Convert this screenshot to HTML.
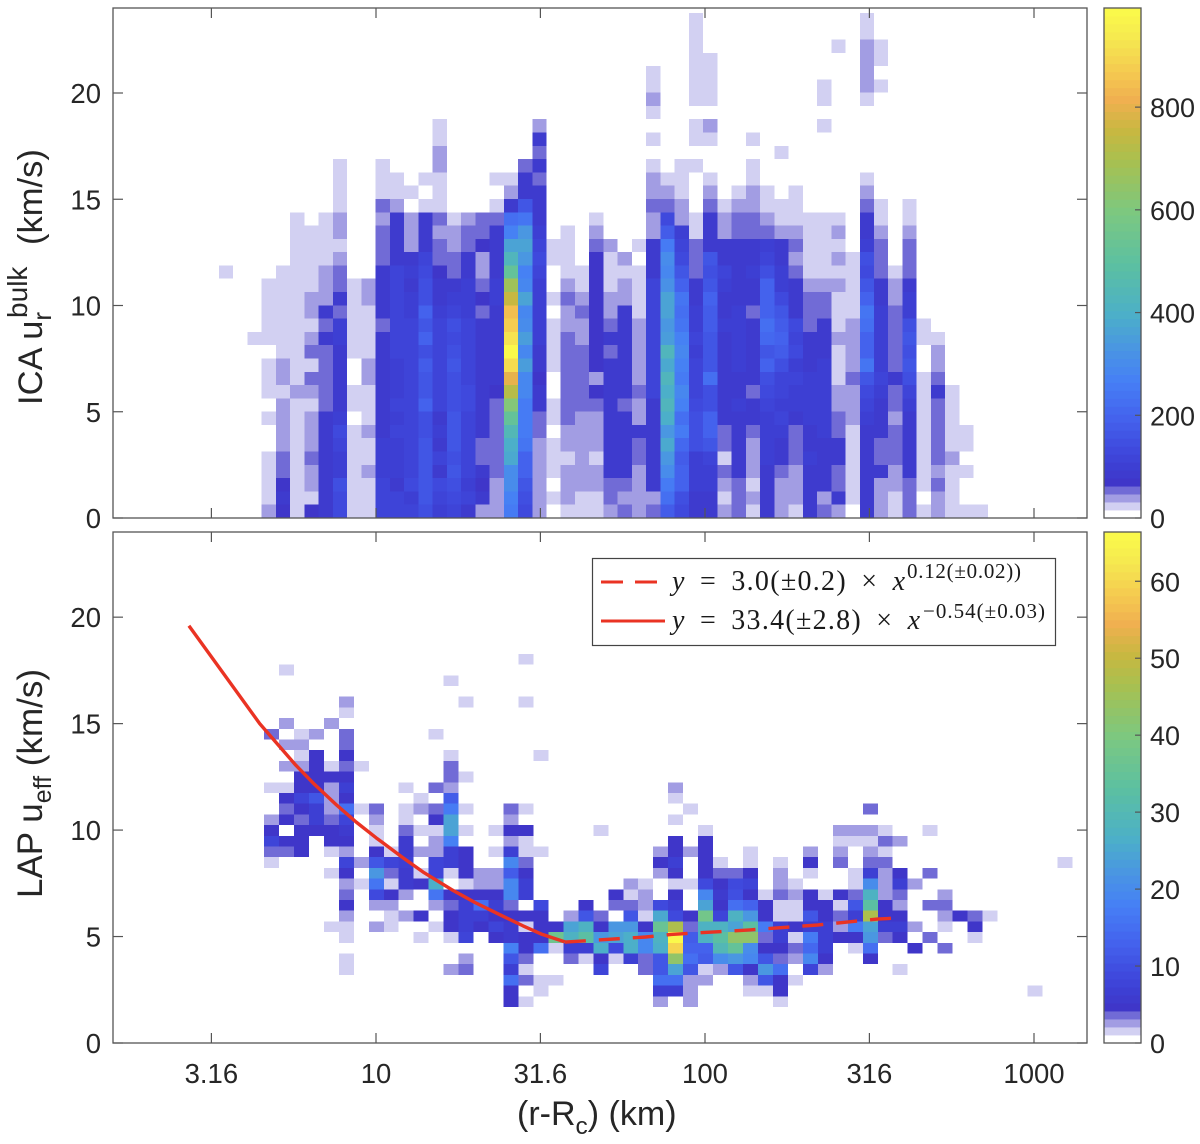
<!DOCTYPE html>
<html lang="en">
<head>
<meta charset="utf-8">
<title>ICA and LAP velocity histograms</title>
<style>
html,body{margin:0;padding:0;background:#fff;}
svg{display:block;font-family:"Liberation Sans",sans-serif;}
</style>
</head>
<body>
<svg id="figure" xmlns="http://www.w3.org/2000/svg" width="1200" height="1144" viewBox="0 0 1200 1144">
  <g id="top-cells" shape-rendering="crispEdges"></g>
  <g id="bottom-cells" shape-rendering="crispEdges"></g>
  <g id="top-bar"></g>
  <g id="bottom-bar"></g>
  <g id="fit-lines"></g>
  <g id="axes"></g>

  <text transform="translate(42,405) rotate(-90)" font-size="34.5" fill="#262626">ICA u<tspan font-size="26" dy="9">r</tspan><tspan font-size="28" dx="-6" dy="-24">bulk</tspan><tspan dx="12" dy="15"> (km/s)</tspan></text>
  <text transform="translate(42,898) rotate(-90)" font-size="35" fill="#262626">LAP u<tspan font-size="25" dy="9">eff</tspan><tspan dy="-9"> (km/s)</tspan></text>
  <text x="517" y="1125" font-size="34" fill="#262626">(r-R<tspan font-size="24.5" dy="9">c</tspan><tspan dy="-9">) (km)</tspan></text>

  <g>
    <rect x="592.5" y="558.5" width="463" height="87" fill="#fff" stroke="#444" stroke-width="1.2"/>
    <line x1="601" y1="582" x2="657" y2="582" stroke="#ea3323" stroke-width="3" stroke-dasharray="22 12"/>
    <line x1="601" y1="621" x2="665" y2="621" stroke="#ea3323" stroke-width="3"/>
    <text x="672" y="590" font-size="28" word-spacing="6" fill="#1a1a1a" font-family="'Liberation Serif',serif" textLength="233" lengthAdjust="spacing"><tspan font-style="italic">y</tspan> = 3.0(±0.2) × <tspan font-style="italic">x</tspan></text>
    <text x="907" y="578" font-size="21" fill="#1a1a1a" font-family="'Liberation Serif',serif" textLength="114" lengthAdjust="spacing">0.12(±0.02))</text>
    <text x="672" y="629" font-size="28" word-spacing="6" fill="#1a1a1a" font-family="'Liberation Serif',serif" textLength="248" lengthAdjust="spacing"><tspan font-style="italic">y</tspan> = 33.4(±2.8) × <tspan font-style="italic">x</tspan></text>
    <text x="923" y="618" font-size="21" fill="#1a1a1a" font-family="'Liberation Serif',serif" textLength="122" lengthAdjust="spacing">−0.54(±0.03)</text>
  </g>
</svg>
<script>
// ---------- chart data ----------
const xTickValues = [3.16, 10, 31.6, 100, 316, 1000];
const xTickLabels = ["3.16", "10", "31.6", "100", "316", "1000"];
const yTickValues = [0, 5, 10, 15, 20];
const topBarTicks = [0, 200, 400, 600, 800];
const bottomBarTicks = [0, 10, 20, 30, 40, 50, 60];

const fitSolidX = [2.7, 4.43, 5.7, 6.5, 7.6, 8.7, 10, 12, 14, 17, 20, 24, 28, 32, 37.5];
const fitSolidY = [19.6, 15.0, 13.05, 12.15, 11.17, 10.38, 9.64, 8.73, 8.0, 7.2, 6.6, 6.0, 5.5, 5.1, 4.75];
const fitDashedX = [37.5, 66, 79, 137, 220, 334, 384];
const fitDashedY = [4.74, 4.98, 5.10, 5.31, 5.54, 5.82, 5.87];

// ICA counts: one array per x bin, listed from the lowest velocity bin upward
const icaCounts = [
[0,0,0,0,0,0,0,0,0,0,0,0,0,0,0,0,0,0,20],
[],
[0,0,0,0,0,0,0,0,0,0,0,0,0,20],
[40,20,20,20,20,0,0,20,0,20,20,20,0,20,20,20,20,20],
[75,80,75,55,55,40,40,40,40,20,40,40,20,20,20,20,20,20,20],
[20,20,20,20,20,20,20,20,20,40,20,20,20,20,20,20,20,20,20,20,20,20,20],
[75,20,40,40,55,40,40,40,20,40,55,20,55,40,20,40,40,20,20,20,20,20],
[80,80,85,85,85,85,85,85,55,55,55,55,55,85,55,85,40,40,40,20,20,20,20],
[130,130,150,100,100,110,125,95,85,85,90,85,85,100,100,55,85,55,55,40,20,40,40,20,20,20,20],
[20,20,20,20,20,20,20,0,20,20,0,0,20,20,20,20,20,20],
[20,20,20,40,20,20,40,20,20,20,40,40,20,20,20,20,40,40],
[110,110,110,100,100,100,90,80,90,80,80,90,85,85,55,85,85,80,80,55,55,55,40,55,20,20,20],
[115,110,90,95,100,100,110,100,110,105,105,105,110,110,110,110,110,120,120,90,85,85,80,40,20,20],
[110,105,130,120,110,110,110,120,110,115,115,110,120,115,110,105,100,85,95,85,40,40,40,0,20],
[145,170,170,170,170,170,155,155,190,170,170,180,155,200,170,190,145,150,125,110,90,90,80,20,0,20],
[100,120,130,85,110,85,100,85,110,115,110,120,120,115,110,95,90,85,75,55,55,40,55,20,20,20,40,40,20,20],
[110,125,145,170,145,170,170,170,155,140,155,160,140,125,155,110,95,85,55,55,40,40,20],
[85,110,105,110,110,110,110,110,125,125,115,110,110,115,115,105,100,95,90,85,55,55,40],
[40,80,75,80,55,55,80,80,85,80,80,90,90,80,80,55,75,55,40,40,75,55,55],
[40,40,40,55,55,55,55,55,55,75,85,90,90,90,90,90,100,100,90,85,85,85,55,20,0,20],
[250,270,310,310,380,390,440,520,620,720,800,900,993,930,880,840,750,670,520,430,360,270,230,85,40,20],
[130,150,160,190,200,240,260,250,260,280,280,350,290,350,300,280,370,290,270,340,370,330,240,170,85,80,55],
[40,40,40,40,40,40,55,55,85,80,75,85,90,100,100,95,105,105,120,130,110,100,85,85,80,55,85,55,85,40],
[0,20,0,20,20,20,0,20,20,0,0,20,20,20,20,0,20,0,0,20,20],
[20,40,40,40,20,40,40,55,55,55,55,55,55,55,40,40,55,40,20,20,20,20],
[20,20,40,40,40,40,40,40,55,55,55,55,55,40,40,55,40,20,20],
[20,20,40,40,20,40,40,40,55,75,40,75,75,75,75,75,75,75,75,75,55,40,20],
[40,55,55,80,80,80,80,80,80,80,80,80,55,80,55,40,40,20,20,20,40],
[55,40,55,80,80,80,80,80,55,80,80,80,80,80,80,80,40,40,20,40],
[40,40,40,40,55,55,80,40,40,55,40,40,40,40,40,20,20,20,20,0,20],
[55,40,80,85,85,85,85,90,85,110,110,110,110,110,110,110,110,110,85,85,85,40,40,55,40,40,20,0,20,0,20,40,20,20],
[180,220,260,300,330,380,340,400,430,400,420,380,420,350,330,370,370,320,290,300,260,180,130,55,40,20],
[130,150,190,190,180,210,250,230,270,280,260,270,290,270,240,230,240,200,170,130,110,95,40,40,20,20,20],
[90,90,95,100,100,140,140,150,130,120,110,110,100,110,100,100,90,85,55,55,55,20,20,0,0,0,20,0,20,20,0,20,20,20,20,20,20,20],
[90,90,105,105,120,170,190,190,150,150,220,160,160,160,180,180,190,160,150,170,85,90,80,55,40,20,0,0,20,40,0,20,20,20,20],
[40,20,40,55,20,55,55,85,85,85,80,90,90,80,95,90,90,95,110,85,80,40,40,20],
[55,55,55,80,80,85,85,85,95,90,90,100,100,105,100,100,90,90,85,80,80,55,55,40,20],
[20,40,20,40,40,40,55,80,80,55,80,80,90,90,85,55,80,85,100,90,80,55,55,40,40,20,20,0,20],
[80,80,80,80,95,100,100,100,110,130,150,190,170,210,220,200,190,190,150,110,100,55,40,20,20],
[40,40,40,55,90,85,95,110,105,110,120,140,180,190,180,170,130,100,100,85,80,40,20,20,0,0,0,20],
[20,40,40,40,55,55,55,85,100,95,110,105,130,120,130,90,90,85,55,40,55,40,20,20,20],
[80,90,80,85,95,80,85,100,100,100,95,85,85,85,55,55,55,40,20,20,20,20,20],
[55,40,80,85,90,90,95,100,95,100,100,100,90,85,85,55,55,40,20,20,20,20,20,0,0,0,0,0,0,20,0,20,20],
[40,80,55,55,80,85,55,55,40,40,20,20,20,40,20,20,20,40,20,40,20,40,20,0,0,0,0,0,0,0,0,0,0,0,0,20],
[0,20,20,20,20,20,20,40,40,40,55,40,40,40,40,20,20,20,20,20],
[85,85,85,85,85,85,90,100,110,130,170,240,190,200,230,240,200,160,130,140,105,90,85,55,40,20,0,0,0,0,0,20,40,40,40,40,20,20],
[40,40,40,85,55,55,85,85,90,100,110,105,105,105,100,100,85,85,55,55,55,40,20,20,0,0,0,0,0,0,0,0,20,0,20,20],
[20,20,40,40,55,55,55,40,55,55,85,55,55,55,55,55,40,40,20],
[55,55,55,85,85,85,85,90,100,120,140,160,150,170,140,100,105,80,55,55,55,40,20,20],
[20,0,20,20,20,20,20,20,20,20,20,0,0,20,20],
[40,40,55,40,55,55,55,55,55,85,55,40,40,20],
[20,20,20,20,40,20,20,20,20,20],
[20,0,0,20,0,20,20],
[20]
];

// LAP counts: one array per x bin, listed from the lowest velocity bin upward
const lapCounts = [
[0,0,0,0,0,0,0,0,0,0,0,0,0,1.5,3.5,8,5,2.5,0,0,1.5,0,0,0,0,3.5],
[0,0,0,0,0,0,0,0,0,0,0,0,0,0,3.5,5,0,5,3.5,5,1.5,0,2.5,0,2.5,0,2.5,0,0,0,0,1.5],
[0,0,0,0,0,0,0,0,0,0,0,0,0,0,5,5,5,3.5,5,8,5,5,2.5,1.5,2.5,1.5],
[0,0,0,0,0,0,0,0,0,0,0,0,0,0,0,0,5,7,7,11,5,5,5,5,0,2.5],
[0,0,0,0,0,0,0,1.5,0,0,0,0,1.5,0,1.5,5,5,3.5,2.5,2.5,2.5,5,1.5,0,0,0,2.5],
[0,0,0,1.5,1.5,0,1.5,1.5,2.5,5,3.5,2.5,5,8,2.5,5,6,8,15,5,7,5,3.5,5,3.5,3.5,0,1.5,2.5],
[0,0,0,0,0,0,0,0,0,0,0,1.5,0,2.5,0,0,0,0,1.5,0,0,0,1.5],
[0,0,0,0,0,0,0,2.5,0,2.5,9,16,22,11,5,1.5,1.5,2.5,3.5],
[0,0,0,0,0,0,0,1.5,1.5,2.5,5,1.5,3.5,8,1.5],
[0,0,0,0,0,0,0,0,2.5,0,2.5,6,6,7,6,6,3.5,1.5,1.5,0,1.5],
[0,0,0,0,0,0,1.5,0,5,0,0,5,1.5,0,2.5,0,1.5,0,2.5,1.5],
[0,0,0,0,0,0,0,1.5,0,2.5,16,26,8,8,2.5,2.5,1.5,5,3.5,0,3.5,0,0,0,0,1.5],
[0,0,0,2.5,0,0,1.5,5,5,3.5,5,0,1.5,7,7,18,24,24,17,12,2.5,3.5,3.5,1.5,0,0,0,0,0,0,1.5],
[0,0,0,3.5,2.5,0,8,7,7,7,5,1.5,5,5,5,0,1.5,0,1.5,0,0,1.5,0,0,0,0,0,0,1.5],
[0,0,0,0,0,0,0,5,7,15,5,2.5,2.5],
[0,0,0,0,0,0,5,8,5,7,5,2.5,2.5,0,1.5,0,1.5],
[5,5,15,7,11,18,6,6,5,3.5,19,19,12,19,7,2.5,5,2.5,3.5],
[1.5,0,3.5,1.5,3.5,5,5,1.5,5,0,7,7,5,3.5,1.5,1.5,5,0,1.5,0,0,0,0,0,0,0,0,0,1.5,0,0,0,1.5],
[0,1.5,1.5,0,0,15,5,5,5,9,0,0,0,0,1.5,0,0,0,0,0,0,0,0,1.5],
[0,0,1.5,0,0,1.5,37,5],
[0,0,0,0,3.5,7,28,24,2.5],
[0,0,0,0,1.5,7,33,28,11,5],
[0,0,0,8,5,26,22,5,3.5,0,0,0,0,0,0,0,1.5],
[0,0,0,0,1.5,9,24,22,0,3.5,5],
[0,0,0,0,7,26,26,22,11,3.5,1.5,2.5],
[0,0,0,3.5,3.5,19,19,5,1.5,2.5,2.5,1.5],
[2.5,7,15,11,11,26,28,36,25,9,0,0,2.5,5,2.5],
[0,7,15,24,43,60,66,47,9,7,5,1.5,5,7,5,5,0,1.5,0,1.5,2.5],
[2.5,2.5,2.5,11,15,13,12,3.5,5,0,0,1.5,0,0,2.5,0,0,0,1.5],
[0,0,2.5,1.5,12,13,27,28,38,24,19,9,5,5,5,5,1.5],
[0,0,0,2.5,20,30,33,28,8,5,6,5,3.5,1.5],
[0,0,0,11,22,35,43,24,27,15,10,9,3.5],
[0,1.5,2.5,5,19,20,43,33,22,13,5,8,5,1.5,1.5],
[0,1.5,11,22,11,5,3.5,17,5,5,1.5],
[1.5,5,5,15,3.5,5,7,7,1.5,1.5,3.5,2.5,2.5,1.5],
[0,0,1.5,0,2.5,3.5,1.5,5,1.5,1.5,2.5,1.5],
[0,0,0,8,19,14,17,7,11,5,5,0,1.5,5,2.5],
[0,0,0,2.5,5,7,7,7,5,5,1.5],
[0,0,0,0,0,0,5,2.5,3.5,1.5,5,0,0,3.5,2.5,1.5,2.5],
[0,0,0,0,0,1.5,5,17,7,11,3.5,1.5,1.5,0,0,1.5,2.5],
[0,0,0,0,5,15,22,24,47,33,27,20,7,3.5,2.5,1.5,2.5,0,3.5],
[0,0,0,0,0,0,3.5,7,5,5,2.5,2.5,2.5,3.5,1.5,3.5,1.5],
[0,0,0,1.5,0,0,5,7,5,2.5,3.5,7,5,0,0,2.5],
[0,0,0,0,0,5,0,2.5,0,0,0,2.5],
[0,0,0,0,0,0,3.5,0,0,3.5,0,0,3.5,0,0,0,1.5],
[0,0,0,0,0,3.5,0,1.5,2.5,3.5,2.5],
[0,0,0,0,0,0,0,0,5],
[0,0,0,0,0,0,1.5,5,3.5],
[0,0,0,0,0,0,0,0,1.5],
[],
[],
[0,1.5],
[],
[0,0,0,0,0,0,0,0,0,0,0,0,0,1.5]
];

// Histogram bin layout, in data units
const icaBinStartLog = 0.5228;
const icaBinStepLog = 0.04328;
const icaBinHeight = 0.6255;
const lapBinStartLog = 0.6596;
const lapBinStepLog = 0.0455;
const lapBinStartY = 1.69;
const lapBinHeight = 0.5025;

// Colormap: fraction of colour range and hex colour
const mapFractions = [0.0625,0.10,0.13,0.2,0.27,0.34,0.40,0.50,0.60,0.70,0.76,0.82,0.88,0.94,1.0];
const mapColors = ["#4033c6","#3d3fd3","#3f48dc","#4464ee","#4680f5","#4a98e0","#4cb0c8","#5cc0a0","#7cc880","#a8c050","#c8b840","#f0b050","#f5cc50","#f5e850","#fbfb4a"];
const lowLevelColors = ["#ffffff","#d2d0f2","#a29de3","#716bd6"];

// ---------- helpers ----------
const NS = "http://www.w3.org/2000/svg";
const LEFT = 113, RIGHT = 1087;
const topPanel = {top: 8, bottom: 518, yMax: 24, barMax: 993};
const bottomPanel = {top: 532, bottom: 1043, yMax: 24, barMax: 66.4};
const BAR_LEFT = 1104, BAR_RIGHT = 1141;

function xScale(v){ return 376 + 329 * (Math.log10(v) - 1); }
function xScaleLog(l){ return 376 + 329 * (l - 1); }
function yScale(panel, v){ return panel.bottom - (panel.bottom - panel.top) * v / panel.yMax; }
function hexToRgb(h){ return [parseInt(h.slice(1,3),16),parseInt(h.slice(3,5),16),parseInt(h.slice(5,7),16)]; }
function levelColor(level){
  if(level < 4) return lowLevelColors[Math.max(level,0)];
  const f = (level + 0.5) / 64;
  for(let k = 1; k < mapFractions.length; k++){
    if(f <= mapFractions[k]){
      const t = Math.max(0,(f - mapFractions[k-1]) / (mapFractions[k] - mapFractions[k-1]));
      const a = hexToRgb(mapColors[k-1]), b = hexToRgb(mapColors[k]);
      return "rgb(" + a.map((c,i)=>Math.round(c + (b[i]-c)*t)).join(",") + ")";
    }
  }
  return mapColors[mapColors.length-1];
}
function valueColor(v, max){ return levelColor(Math.min(63, Math.floor(v / max * 64))); }
function svgEl(tag, attrs){
  const el = document.createElementNS(NS, tag);
  for(const k in attrs) el.setAttribute(k, attrs[k]);
  return el;
}

// ---------- heatmaps ----------
const topGroup = document.getElementById("top-cells");
icaCounts.forEach(function(col, i){
  const x0 = xScaleLog(icaBinStartLog + i * icaBinStepLog);
  const x1 = xScaleLog(icaBinStartLog + (i + 1) * icaBinStepLog);
  col.forEach(function(v, r){
    if(!v) return;
    const y1 = yScale(topPanel, r * icaBinHeight);
    const y0 = yScale(topPanel, (r + 1) * icaBinHeight);
    const cell = svgEl("rect", {x: x0, y: y0, width: x1 - x0, height: y1 - y0, fill: valueColor(v, topPanel.barMax)});
    
    
    topGroup.appendChild(cell);
  });
});
const bottomGroup = document.getElementById("bottom-cells");
lapCounts.forEach(function(col, i){
  const x0 = xScaleLog(lapBinStartLog + i * lapBinStepLog);
  const x1 = xScaleLog(lapBinStartLog + (i + 1) * lapBinStepLog);
  col.forEach(function(v, r){
    if(!v) return;
    const y1 = yScale(bottomPanel, lapBinStartY + r * lapBinHeight);
    const y0 = yScale(bottomPanel, lapBinStartY + (r + 1) * lapBinHeight);
    const cell = svgEl("rect", {x: x0, y: y0, width: x1 - x0, height: y1 - y0, fill: valueColor(v, bottomPanel.barMax)});
    
    
    bottomGroup.appendChild(cell);
  });
});

// ---------- colorbars ----------
function drawBar(groupId, panel, ticks, nameStem){
  const g = document.getElementById(groupId);
  const h = (panel.bottom - panel.top) / 64;
  for(let l = 0; l < 64; l++){
    const seg = svgEl("rect", {x: BAR_LEFT, y: panel.bottom - (l + 1) * h, width: BAR_RIGHT - BAR_LEFT, height: h + 0.4, fill: levelColor(l)});
    
    
    g.appendChild(seg);
  }
  const frame = svgEl("rect", {x: BAR_LEFT, y: panel.top, width: BAR_RIGHT - BAR_LEFT, height: panel.bottom - panel.top, fill: "none", stroke: "#555", "stroke-width": 1.3});
  
  
  g.appendChild(frame);
  ticks.forEach(function(t){
    const y = panel.bottom - (panel.bottom - panel.top) * t / panel.barMax;
    const tick = svgEl("line", {x1: BAR_RIGHT - 6, x2: BAR_RIGHT, y1: y, y2: y, stroke: "#555", "stroke-width": 1.2});
    
    
    g.appendChild(tick);
    const label = svgEl("text", {x: 1150, y: y + 10, "font-size": 27, fill: "#262626"});
    label.textContent = String(t);
    
    
    g.appendChild(label);
  });
}
drawBar("top-bar", topPanel, topBarTicks, "ica-colorbar");
drawBar("bottom-bar", bottomPanel, bottomBarTicks, "lap-colorbar");

// ---------- axes ----------
const axesGroup = document.getElementById("axes");
function drawPanel(panel, nameStem, showXLabels){
  const box = svgEl("rect", {x: LEFT, y: panel.top, width: RIGHT - LEFT, height: panel.bottom - panel.top, fill: "none", stroke: "#555", "stroke-width": 1.3});
  
  
  axesGroup.appendChild(box);
  xTickValues.forEach(function(v, i){
    const x = xScale(v);
    [[panel.bottom, panel.bottom - 10], [panel.top, panel.top + 10]].forEach(function(p){
      const t = svgEl("line", {x1: x, x2: x, y1: p[0], y2: p[1], stroke: "#555", "stroke-width": 1.2});
      
      
      axesGroup.appendChild(t);
    });
    if(showXLabels){
      const lab = svgEl("text", {x: x, y: 1083, "font-size": 27.5, "text-anchor": "middle", fill: "#262626"});
      lab.textContent = xTickLabels[i];
      
      
      axesGroup.appendChild(lab);
    }
  });
  yTickValues.forEach(function(v){
    const y = yScale(panel, v);
    [[LEFT, LEFT + 10], [RIGHT, RIGHT - 10]].forEach(function(p){
      const t = svgEl("line", {x1: p[0], x2: p[1], y1: y, y2: y, stroke: "#555", "stroke-width": 1.2});
      
      
      axesGroup.appendChild(t);
    });
    const lab = svgEl("text", {x: 101, y: y + 10, "font-size": 27.5, "text-anchor": "end", fill: "#262626"});
    lab.textContent = String(v);
    
    
    axesGroup.appendChild(lab);
  });
}
drawPanel(topPanel, "ica", false);
drawPanel(bottomPanel, "lap", true);

// ---------- fit lines ----------
const fitGroup = document.getElementById("fit-lines");
function fitPoints(xs, ys){
  return xs.map(function(x, i){ return xScale(x).toFixed(1) + "," + yScale(bottomPanel, ys[i]).toFixed(1); }).join(" ");
}
const solidFit = svgEl("polyline", {points: fitPoints(fitSolidX, fitSolidY), fill: "none", stroke: "#ea3323", "stroke-width": 3.4, "stroke-linejoin": "round"});


fitGroup.appendChild(solidFit);
const dashedFit = svgEl("polyline", {points: fitPoints(fitDashedX, fitDashedY), fill: "none", stroke: "#ea3323", "stroke-width": 3.4, "stroke-dasharray": "21 13"});


fitGroup.appendChild(dashedFit);
</script>
</body>
</html>
